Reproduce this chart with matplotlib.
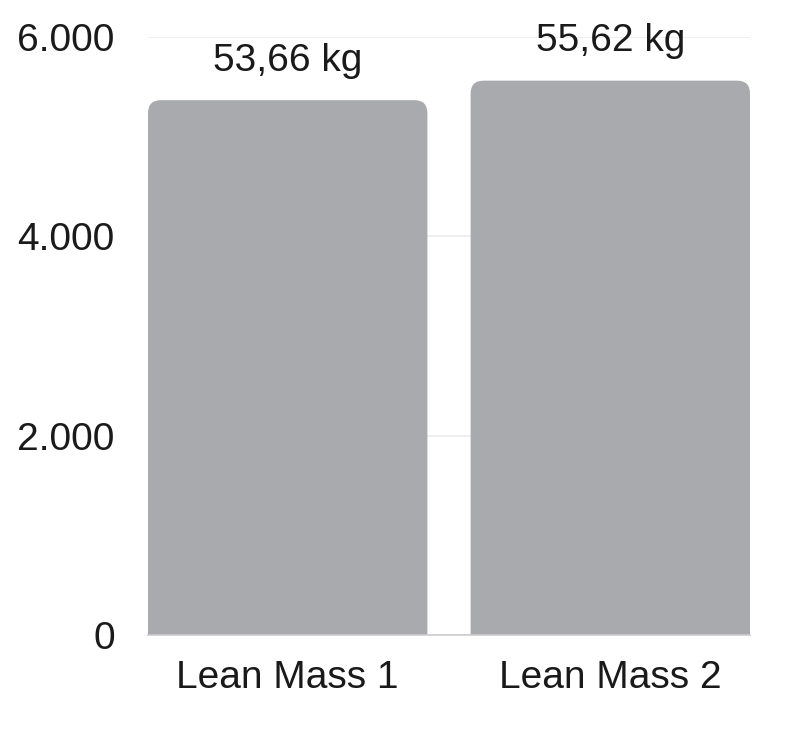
import numpy as np
import matplotlib
matplotlib.use('Agg')
import matplotlib.pyplot as plt
from matplotlib.patches import FancyBboxPatch

categories = ['Lean Mass 1', 'Lean Mass 2']
values = [5366, 5562]
value_labels = ['53,66 kg', '55,62 kg']
y_ticks = [0, 2000, 4000, 6000]
y_tick_labels = ['0', '2.000', '4.000', '6.000']

plt.rcParams['font.family'] = ['Liberation Sans', 'DejaVu Sans']

bar_color = '#a9aaad'
text_color = '#1a1a1a'
fs = 28

fig = plt.figure(figsize=(8, 7.31), dpi=100)
ax = fig.add_axes([0.185, 0.1313, 0.7525, 0.8181])

x = np.arange(len(categories))
width = 0.866
ax.set_xlim(-width / 2, len(categories) - 1 + width / 2)
ax.set_ylim(0, 6000)

# aspect between y data units and x data units per pixel, for round corners
bbox = ax.get_window_extent()
x_per_px = (ax.get_xlim()[1] - ax.get_xlim()[0]) / bbox.width
y_per_px = (ax.get_ylim()[1] - ax.get_ylim()[0]) / bbox.height
aspect = y_per_px / x_per_px
radius_px = 13

for xi, v in zip(x, values):
    patch = FancyBboxPatch((xi - width / 2, -500), width, v + 500,
                           boxstyle=f'round,pad=0,rounding_size={radius_px * x_per_px}',
                           mutation_aspect=aspect,
                           facecolor=bar_color, edgecolor='none', zorder=2)
    ax.add_patch(patch)
    patch.set_clip_path(ax.patch)

for xi, v, lab in zip(x, values, value_labels):
    ax.annotate(lab, (xi, v), xytext=(0, 21), textcoords='offset points',
                ha='center', va='baseline', fontsize=fs, color=text_color,
                annotation_clip=False)

ax.set_yticks(y_ticks)
ax.set_yticklabels(y_tick_labels)
ax.set_xticks(x)
ax.set_xticklabels(categories)
ax.tick_params(axis='y', length=0, pad=24, labelsize=fs, labelcolor=text_color)
ax.tick_params(axis='x', length=0, pad=18, labelsize=fs, labelcolor=text_color)

ax.grid(axis='y', color='#ececec', linewidth=1.2, zorder=0)
ax.set_axisbelow(True)
for s in ['top', 'right', 'left']:
    ax.spines[s].set_visible(False)
ax.spines['bottom'].set_color('#cccccc')
ax.spines['bottom'].set_linewidth(1.2)
ax.spines['bottom'].set_zorder(3)

fig.savefig('out.png', dpi=100)
